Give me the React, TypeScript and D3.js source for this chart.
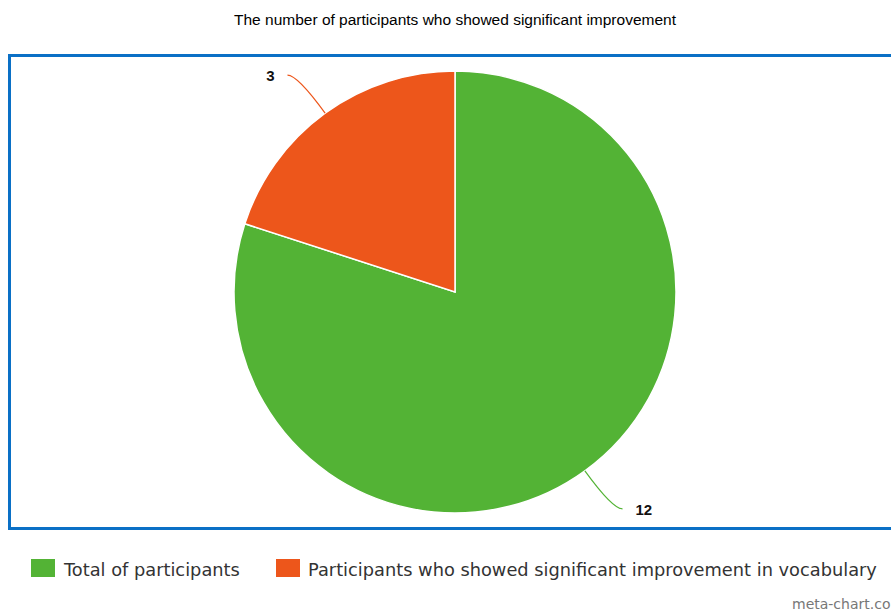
import * as d3 from 'd3';

const categories = ['Total of participants', 'Participants who showed significant improvement in vocabulary'];
const values = [12, 3];
const colors = ['#53b335', '#ed561b'];
const title = 'The number of participants who showed significant improvement';

const W = 891;
const H = 610;
const cx = 455;
const cy = 292;
const r = 221;

const App = () => {
  const pie = d3.pie<number>().sort(null).value((d) => d);
  const arcs = pie(values);
  const arc = d3.arc<d3.PieArcDatum<number>>().innerRadius(0).outerRadius(r);

  // leader lines: go out radially, then bend toward horizontal label
  const leader = (a: d3.PieArcDatum<number>) => {
    const mid = (a.startAngle + a.endAngle) / 2;
    const sx = Math.sin(mid);
    const sy = -Math.cos(mid);
    const p0: [number, number] = [sx * r, sy * r];
    const p1: [number, number] = [sx * (r + 47), sy * (r + 47)];
    const dir = sx >= 0 ? 1 : -1;
    const p2: [number, number] = [p1[0] + dir * 10, p1[1]];
    const path = d3.path();
    path.moveTo(p0[0], p0[1]);
    path.quadraticCurveTo(p1[0], p1[1], p2[0], p2[1]);
    return { d: path.toString(), end: p2, dir };
  };

  return (
    <svg
      width={W}
      height={H}
      style={{ position: 'absolute', left: 0, top: 0, background: '#fff' }}
    >
      <text
        x={cx}
        y={25}
        textAnchor="middle"
        fontFamily="'Liberation Sans', Arial, sans-serif"
        fontSize={15.5}
        fill="#000"
      >
        {title}
      </text>
      <rect x={9.5} y={55.5} width={900} height={473} fill="none" stroke="#0a70c6" strokeWidth={3} />
      <g transform={`translate(${cx},${cy})`}>
        {arcs.map((a, i) => (
          <path key={i} d={arc(a) || ''} fill={colors[i]} stroke="#fff" strokeWidth={1.5} />
        ))}
        {arcs.map((a, i) => {
          const l = leader(a);
          return (
            <g key={'l' + i}>
              <path d={l.d} fill="none" stroke={colors[i]} strokeWidth={1.2} />
              <text
                x={l.end[0] + l.dir * 13}
                y={l.end[1] + 6}
                textAnchor={l.dir > 0 ? 'start' : 'end'}
                fontFamily="'Liberation Sans', Arial, sans-serif"
                fontWeight="bold"
                fontSize={15}
                fill="#111"
              >
                {values[i]}
              </text>
            </g>
          );
        })}
      </g>
      <g fontFamily="'DejaVu Sans', Verdana, sans-serif" fontSize={17.8} fill="#333">
        <rect x={31} y={559} width={24} height={18} fill={colors[0]} />
        <text x={64} y={576}>{categories[0]}</text>
        <rect x={276} y={559} width={24} height={18} fill={colors[1]} />
        <text x={308} y={576}>{categories[1]}</text>
      </g>
      <text x={792} y={609} fontFamily="'DejaVu Sans', Verdana, sans-serif" fontSize={14} fill="#777">
        meta-chart.com
      </text>
    </svg>
  );
};

export default App;
